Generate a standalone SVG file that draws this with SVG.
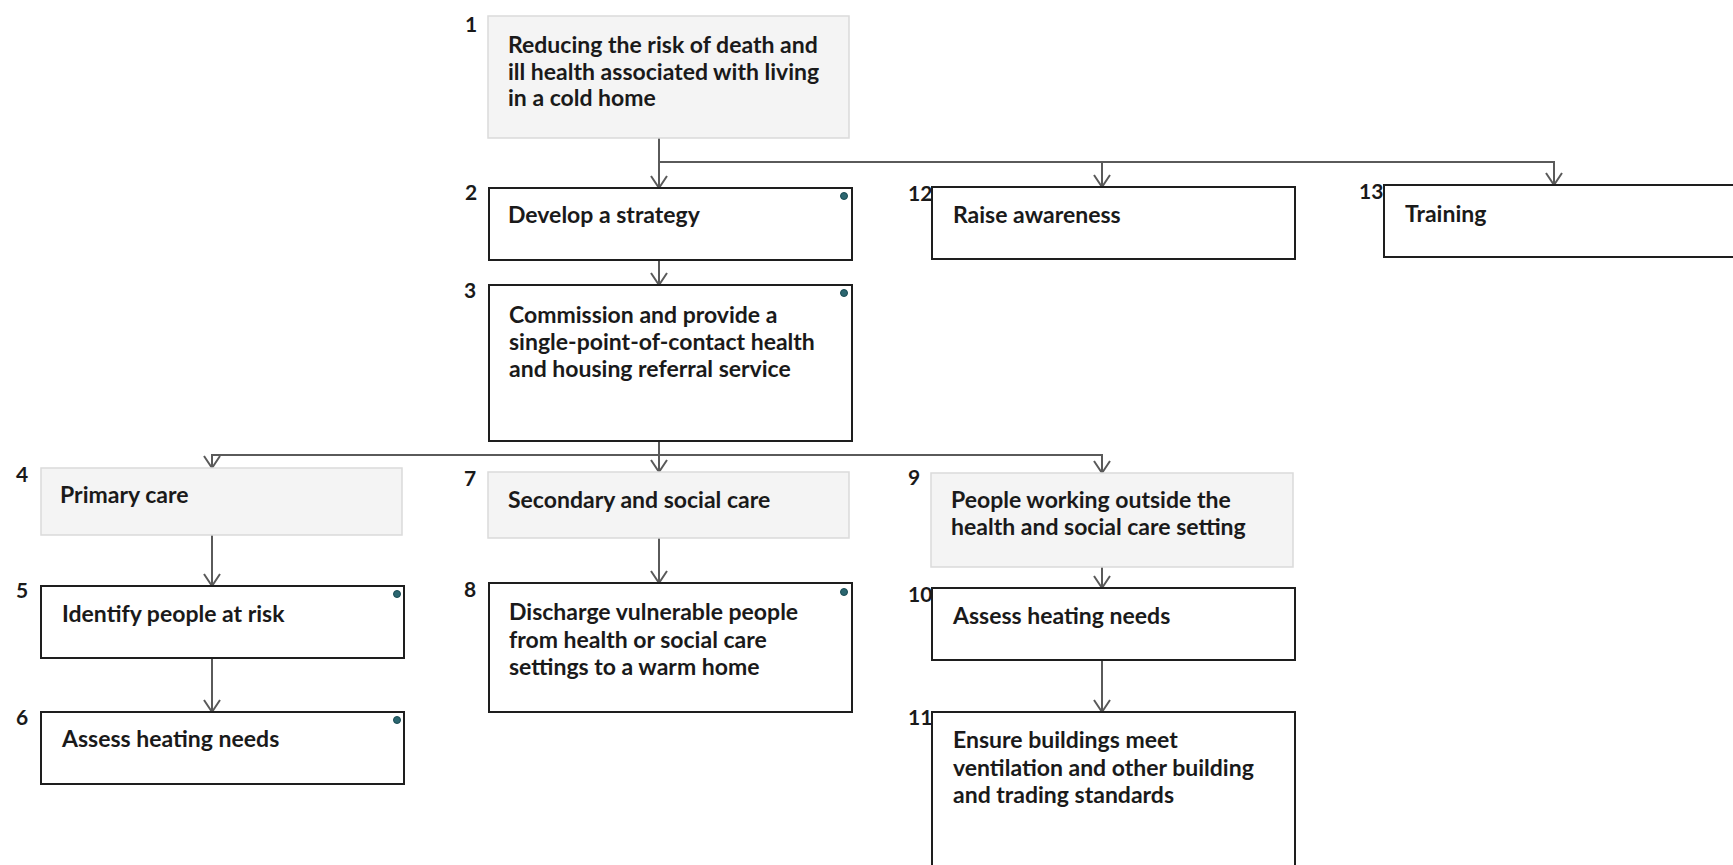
<svg xmlns="http://www.w3.org/2000/svg" width="1733" height="865" viewBox="0 0 1733 865">
  <style>
    .box { fill: #ffffff; stroke: #1e1e1e; stroke-width: 2; }
    .grp { fill: #f4f4f4; stroke: #dadada; stroke-width: 1.5; }
    .txt { font-family: "Lato", "Liberation Sans", sans-serif; font-weight: 700; font-size: 23px; fill: #1a1a1a; }
    .num { font-family: "Lato", "Liberation Sans", sans-serif; font-weight: 700; font-size: 21px; fill: #1a1a1a; }
    .dot { fill: #2b6670; stroke: #174a52; stroke-width: 1; }
    .wire { fill: none; stroke: #5a5a5a; stroke-width: 2; }
  </style>
  <defs>
    <marker id="vee" markerWidth="20" markerHeight="20" refX="13" refY="10" orient="auto" markerUnits="userSpaceOnUse">
      <path d="M1,2 L13,10 L1,18" fill="none" stroke="#5a5a5a" stroke-width="2"/>
    </marker>
  </defs>

  <rect width="1733" height="865" fill="#ffffff"/>

  <!-- connectors -->
  <g id="connectors">
    <path class="wire" d="M659,138 V188" marker-end="url(#vee)"/>
    <path class="wire" d="M659,162 H1102 V187" marker-end="url(#vee)"/>
    <path class="wire" d="M1102,162 H1554 V185" marker-end="url(#vee)"/>
    <path class="wire" d="M659,260 V285" marker-end="url(#vee)"/>
    <path class="wire" d="M659,441 V472" marker-end="url(#vee)"/>
    <path class="wire" d="M659,455 H212 V468" marker-end="url(#vee)"/>
    <path class="wire" d="M659,455 H1102 V473" marker-end="url(#vee)"/>
    <path class="wire" d="M212,535 V586" marker-end="url(#vee)"/>
    <path class="wire" d="M212,658 V712" marker-end="url(#vee)"/>
    <path class="wire" d="M659,538 V583" marker-end="url(#vee)"/>
    <path class="wire" d="M1102,567 V588" marker-end="url(#vee)"/>
    <path class="wire" d="M1102,660 V712" marker-end="url(#vee)"/>
  </g>

  <g id="node1">
    <rect class="grp" x="488" y="16" width="361" height="122"/>
    <text class="num" x="465" y="32">1</text>
    <text class="txt" x="508" y="53">Reducing the risk of death and</text>
    <text class="txt" x="508" y="80">ill health associated with living</text>
    <text class="txt" x="508" y="106">in a cold home</text>
  </g>

  <g id="node2">
    <rect class="box" x="489" y="188" width="363" height="72"/>
    <circle class="dot" cx="844" cy="196" r="3.5"/>
    <text class="num" x="465" y="200">2</text>
    <text class="txt" x="508" y="223">Develop a strategy</text>
  </g>

  <g id="node3">
    <rect class="box" x="489" y="285" width="363" height="156"/>
    <circle class="dot" cx="844" cy="293" r="3.5"/>
    <text class="num" x="464" y="298">3</text>
    <text class="txt" x="509" y="323">Commission and provide a</text>
    <text class="txt" x="509" y="350">single-point-of-contact health</text>
    <text class="txt" x="509" y="377">and housing referral service</text>
  </g>

  <g id="node4">
    <rect class="grp" x="41" y="468" width="361" height="67"/>
    <text class="num" x="16" y="482">4</text>
    <text class="txt" x="60" y="503">Primary care</text>
  </g>

  <g id="node5">
    <rect class="box" x="41" y="586" width="363" height="72"/>
    <circle class="dot" cx="397" cy="594" r="3.5"/>
    <text class="num" x="16" y="598">5</text>
    <text class="txt" x="62" y="622">Identify people at risk</text>
  </g>

  <g id="node6">
    <rect class="box" x="41" y="712" width="363" height="72"/>
    <circle class="dot" cx="397" cy="720" r="3.5"/>
    <text class="num" x="16" y="725">6</text>
    <text class="txt" x="62" y="747">Assess heating needs</text>
  </g>

  <g id="node7">
    <rect class="grp" x="488" y="472" width="361" height="66"/>
    <text class="num" x="464" y="486">7</text>
    <text class="txt" x="508" y="508">Secondary and social care</text>
  </g>

  <g id="node8">
    <rect class="box" x="489" y="583" width="363" height="129"/>
    <circle class="dot" cx="844" cy="592" r="3.5"/>
    <text class="num" x="464" y="597">8</text>
    <text class="txt" x="509" y="620">Discharge vulnerable people</text>
    <text class="txt" x="509" y="648">from health or social care</text>
    <text class="txt" x="509" y="675">settings to a warm home</text>
  </g>

  <g id="node9">
    <rect class="grp" x="931" y="473" width="362" height="94"/>
    <text class="num" x="908" y="485">9</text>
    <text class="txt" x="951" y="508">People working outside the</text>
    <text class="txt" x="951" y="535">health and social care setting</text>
  </g>

  <g id="node10">
    <rect class="box" x="932" y="588" width="363" height="72"/>
    <text class="num" x="908" y="602">10</text>
    <text class="txt" x="953" y="624">Assess heating needs</text>
  </g>

  <g id="node11">
    <rect class="box" x="932" y="712" width="363" height="170"/>
    <text class="num" x="908" y="725">11</text>
    <text class="txt" x="953" y="748">Ensure buildings meet</text>
    <text class="txt" x="953" y="776">ventilation and other building</text>
    <text class="txt" x="953" y="803">and trading standards</text>
  </g>

  <g id="node12">
    <rect class="box" x="932" y="187" width="363" height="72"/>
    <text class="num" x="908" y="201">12</text>
    <text class="txt" x="953" y="223">Raise awareness</text>
  </g>

  <g id="node13">
    <rect class="box" x="1384" y="185" width="380" height="72"/>
    <text class="num" x="1359" y="199">13</text>
    <text class="txt" x="1405" y="222">Training</text>
  </g>
</svg>
